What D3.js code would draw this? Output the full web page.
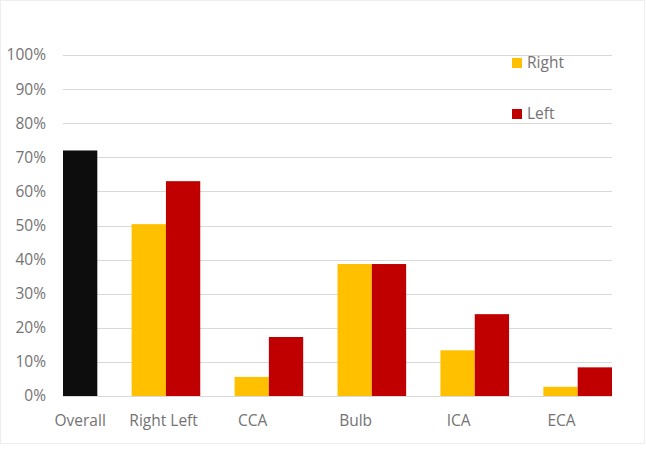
<!DOCTYPE html>
<html>
<head>
<meta charset="utf-8">
<title>Plaque by segment</title>
<style>
  body { margin: 0; background: #fff; }
  text { font-family: "Open Sans", Lato, sans-serif; fill: #737373; }
</style>
</head>
<body>
<svg id="chart" width="646" height="453"></svg>
<script src="https://cdn.jsdelivr.net/npm/d3@7"></script>
<script>
// ---- data ----
var groups = ["Overall", "RightLeft", "CCA", "Bulb", "ICA", "ECA"];
var groupLabels = ["Overall", "", "CCA", "Bulb", "ICA", "ECA"];
var sides = ["Right", "Left"];
var overallValue = 72;
var rightValues = [null, 50.4, 5.6, 38.7, 13.4, 2.7];
var leftValues  = [null, 63.0, 17.3, 38.7, 24.0, 8.4];
var yTicks = [0, 10, 20, 30, 40, 50, 60, 70, 80, 90, 100];

var colors = {Right: "#FFC000", Left: "#C00000", Overall: "#0D0D0D"};
var fontSize = "15.5px";

// ---- layout ----
var svg = d3.select("#chart");
var plotLeft = 63, plotRight = 612, plotTop = 55, plotBottom = 396;

// each group = 2 bar slots + 1 slot gap; the Overall group only shows its second slot
var slot = (plotRight - plotLeft) / 16;
var x0 = d3.scaleBand().domain(groups)
    .range([plotLeft - slot, plotRight])
    .paddingInner(1 / 3).paddingOuter(0);
var x1 = d3.scaleBand().domain(sides).range([0, x0.bandwidth()]);
var y = d3.scaleLinear().domain([0, 100]).range([plotBottom, plotTop]);

// frame
svg.append("rect")
    .attr("x", 0.5).attr("y", 0.5)
    .attr("width", 644).attr("height", 443)
    .attr("fill", "none").attr("stroke", "#eeeeee");

// gridlines
svg.append("g").selectAll("line")
    .data(yTicks)
    .enter().append("line")
    .attr("x1", plotLeft).attr("x2", plotRight)
    .attr("y1", function(d) { return Math.round(y(d)) + 0.5; })
    .attr("y2", function(d) { return Math.round(y(d)) + 0.5; })
    .attr("stroke", "#D9D9D9").attr("stroke-width", 1);

// y labels
svg.append("g").selectAll("text")
    .data(yTicks)
    .enter().append("text")
    .attr("x", 46)
    .attr("y", function(d) { return y(d); })
    .attr("dy", "0.35em")
    .attr("text-anchor", "end")
    .style("font-size", fontSize)
    .text(function(d) { return d + "%"; });

// bars
var bars = svg.append("g");
bars.append("rect")
    .attr("x", x0("Overall") + x1("Left"))
    .attr("y", y(overallValue))
    .attr("width", x1.bandwidth())
    .attr("height", y(0) - y(overallValue))
    .attr("fill", colors.Overall);

groups.forEach(function(g, i) {
    if (rightValues[i] == null) return;
    [["Right", rightValues[i]], ["Left", leftValues[i]]].forEach(function(s) {
        bars.append("rect")
            .attr("x", x0(g) + x1(s[0]))
            .attr("y", y(s[1]))
            .attr("width", x1.bandwidth())
            .attr("height", y(0) - y(s[1]))
            .attr("fill", colors[s[0]]);
    });
});

// x labels
var labY = 421;
function addLabel(cx, txt) {
    svg.append("text").attr("x", cx).attr("y", labY).attr("dy", "0.35em")
        .attr("text-anchor", "middle").style("font-size", fontSize).text(txt);
}
groups.forEach(function(g, i) {
    if (g === "Overall") {
        addLabel(x0(g) + x1("Left") + x1.bandwidth() / 2, groupLabels[i]);
    } else if (g === "RightLeft") {
        addLabel(x0(g) + x1("Right") + x1.bandwidth() / 2 - 1, "Right");
        addLabel(x0(g) + x1("Left") + x1.bandwidth() / 2 + 1, "Left");
    } else {
        addLabel(x0(g) + x1("Right") + x1.bandwidth() / 2 + 1, groupLabels[i]);
    }
});

// legend
var legend = svg.append("g").selectAll("g")
    .data(sides)
    .enter().append("g")
    .attr("transform", function(d, i) { return "translate(512," + (58 + i * 51) + ")"; });
legend.append("rect").attr("width", 10).attr("height", 10)
    .attr("fill", function(d) { return colors[d]; });
legend.append("text").attr("x", 15).attr("y", 5).attr("dy", "0.35em")
    .style("font-size", fontSize).text(function(d) { return d; });
</script>
</body>
</html>
